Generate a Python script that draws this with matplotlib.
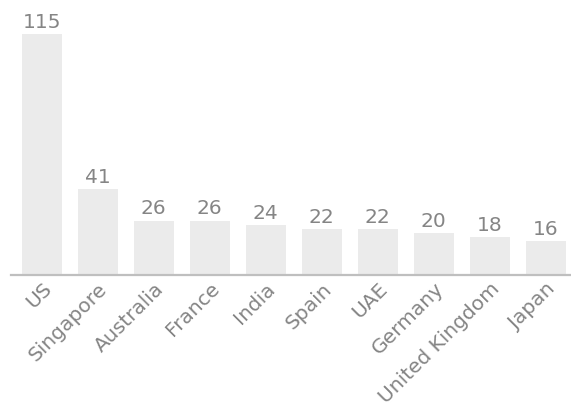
import numpy as np
import matplotlib.pyplot as plt

countries = ['US', 'Singapore', 'Australia', 'France', 'India', 'Spain',
             'UAE', 'Germany', 'United Kingdom', 'Japan']
values = [115, 41, 26, 26, 24, 22, 22, 20, 18, 16]

bar_color = '#ebebeb'
text_color = '#858585'

fig = plt.figure(figsize=(5.71, 4.15), dpi=100)
ax = fig.add_axes([11 / 571, 140 / 415, 560 / 571, 275 / 415])

x = np.arange(len(countries))
bars = ax.bar(x, values, width=0.71, color=bar_color)

# value labels above the bars
for xi, v in zip(x, values):
    ax.text(xi, v + 1, str(v), ha='center', va='bottom',
            fontsize=14.5, color=text_color)

ax.set_xlim(-0.55, 9.45)
ax.set_ylim(0, 131.2)

for side in ['top', 'right', 'left']:
    ax.spines[side].set_visible(False)
ax.spines['bottom'].set_color('#bfbfbf')
ax.spines['bottom'].set_linewidth(1.6)

ax.set_yticks([])
ax.set_xticks(x)
ax.set_xticklabels(countries, rotation=45, ha='right', rotation_mode='anchor',
                   fontsize=14.5, color=text_color)
ax.tick_params(axis='x', length=0, pad=3)

plt.savefig('out.png', dpi=100)
